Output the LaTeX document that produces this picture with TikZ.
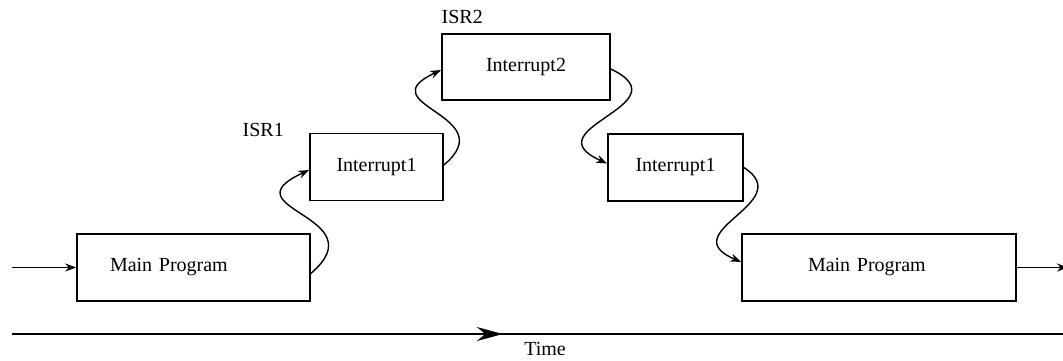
\documentclass[tikz,border=0pt]{standalone}
\usepackage{fontspec}
\setmainfont{Liberation Serif}
\usetikzlibrary{arrows.meta, positioning, decorations.markings}

\begin{document}
\begin{tikzpicture}[x=0.5pt, y=-0.5pt,
  font=\fontsize{10}{12}\selectfont,
  box/.style={draw, line width=0.8pt, minimum height=33.5pt, inner sep=0pt},
  flow/.style={line width=0.7pt, -{Stealth[length=5.5pt,width=4pt]}}]
\useasboundingbox (0,0) rectangle (1063,360);

\node (main1) [box, minimum width=116.5pt, text width=83.5pt, inner xsep=16.5pt, align=left] at (193.5,267.5) {Main Program};
\node (int1a) [box, minimum width=66.5pt] at (376.5,167) {Interrupt1};
\node (int2) [box, minimum width=84pt, minimum height=33pt] at (526,67) {Interrupt2};
\node (int1b) [box, minimum width=67.5pt] at (675.5,167.5) {Interrupt1};
\node (main2) [box, minimum width=137pt, text width=71pt, inner xsep=33pt, align=left] at (879,267.5) {Main Program};

\node (isr1) at ([xshift=-23pt, yshift=1.5pt]int1a.north west) {ISR1};
\node (isr2) at ([xshift=10.5pt, yshift=8pt]int2.north west) {ISR2};

% program flow
\coordinate (in) at (12,267.5);
\coordinate (out) at (1068,267.5);
\draw [flow] (in) -- (main1);
\draw [flow] ([yshift=-3pt]main1.east) .. controls +(68,-58) and +(-85,39) .. ([yshift=-1.5pt]int1a.west);
\draw [flow] ([yshift=1pt]int1a.east) .. controls +(60,-50) and +(-75,35) .. ([yshift=-1.5pt]int2.west);
\draw [flow] ([yshift=-1pt]int2.east) .. controls +(75,36) and +(-78,-35) .. ([yshift=2pt]int1b.west);
\draw [flow] (int1b.east) .. controls +(55,35) and +(-70,-30) .. ([yshift=2.75pt]main2.west);
\draw [flow] (main2) -- (out);

% time axis
\coordinate (t0) at (12,334);
\coordinate (t1) at (1063,334);
\draw [line width=0.8pt, postaction={decorate},
  decoration={markings, mark=at position 0.467 with {\arrow{Stealth[length=13pt,width=7pt]}}}] (t0) -- (t1);
\node (time) at (545,349) {Time};
\end{tikzpicture}
\end{document}
